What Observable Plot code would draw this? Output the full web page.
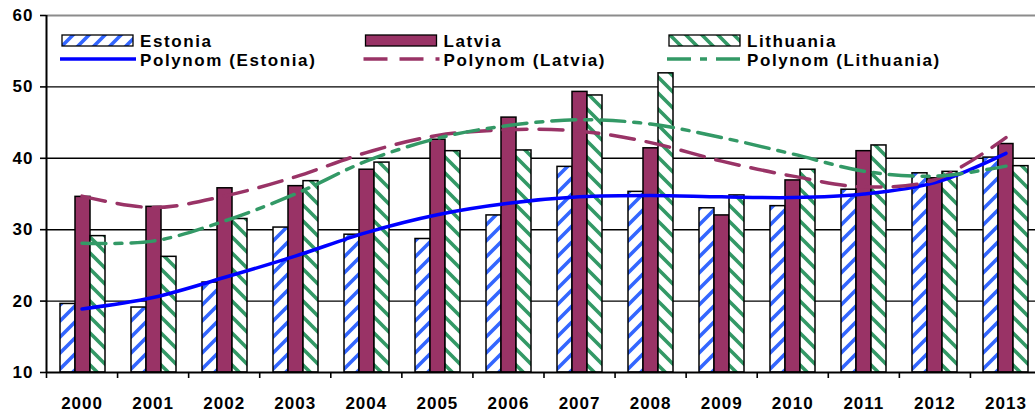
<!DOCTYPE html>
<html>
<head>
<meta charset="utf-8">
<script src="https://cdn.jsdelivr.net/npm/d3@7"></script>
<script src="https://cdn.jsdelivr.net/npm/@observablehq/plot@0.6"></script>
<style>
  html, body { margin: 0; padding: 0; background: #fff; overflow: hidden; }
  #chart { position: relative; width: 1041px; height: 417px; }
  #chart > svg { position: absolute; left: 0; top: 0; }
</style>
</head>
<body>
<div id="chart"></div>
<script>
// Categories and series values
const years = [2000, 2001, 2002, 2003, 2004, 2005, 2006, 2007, 2008, 2009, 2010, 2011, 2012, 2013];
const countries = ["Estonia", "Latvia", "Lithuania"];
const estonia   = [19.6, 19.1, 22.6, 30.3, 29.3, 28.7, 32.0, 38.8, 35.3, 33.0, 33.3, 35.6, 37.9, 40.1];
const latvia    = [34.6, 33.2, 35.8, 36.1, 38.4, 42.6, 45.7, 49.3, 41.4, 32.0, 36.9, 41.0, 37.2, 42.0];
const lithuania = [29.1, 26.2, 31.5, 36.8, 39.4, 41.0, 41.1, 48.8, 51.9, 34.8, 38.4, 41.8, 38.1, 38.9];

// Polynomial trend values at each year
const trendEstonia   = [18.9, 20.5, 23.3, 26.3, 29.6, 32.1, 33.7, 34.6, 34.8, 34.6, 34.5, 35.0, 36.6, 40.7];
const trendLatvia    = [34.7, 33.1, 34.7, 37.4, 40.8, 43.2, 44.0, 43.8, 42.2, 39.6, 37.5, 36.0, 37.0, 42.9];
const trendLithuania = [28.1, 28.4, 31.2, 35.0, 39.6, 42.8, 44.6, 45.4, 44.8, 42.9, 40.6, 38.2, 37.5, 38.9];

const yTicks = [10, 20, 30, 40, 50, 60];

const seriesValues = {Estonia: estonia, Latvia: latvia, Lithuania: lithuania};
const seriesTrend = {Estonia: trendEstonia, Latvia: trendLatvia, Lithuania: trendLithuania};

// Styling
const barFill = {Estonia: "url(#hatch-estonia)", Latvia: "#993366", Lithuania: "url(#hatch-lithuania)"};
const trendStroke = {Estonia: "#0000ff", Latvia: "#993366", Lithuania: "#339966"};
const trendDash = {Estonia: null, Latvia: "24,12", Lithuania: "24,9,7,9"};

const bars = years.flatMap((year, i) =>
  countries.map(country => ({year, country, value: seriesValues[country][i]})));
const trends = countries.map(country =>
  years.map((year, i) => ({year, country, value: seriesTrend[country][i]})));

const W = 1041, H = 417;
const dims = {width: W, height: H, marginLeft: 46, marginRight: 0, marginTop: 15, marginBottom: 45};
const yDomain = [yTicks[0], yTicks[yTicks.length - 1]];
const xDomain = [years[0] - 0.5, years[years.length - 1] + 0.5];
const boundaries = [...years.map(y => y - 0.5), years[years.length - 1] + 0.5];
const style = {
  fontFamily: '"Liberation Sans", Arial, sans-serif',
  fontSize: "17px",
  fontWeight: "bold",
  letterSpacing: "1px",
  color: "#000",
  background: "transparent",
  overflow: "visible"
};

const chart = d3.select("#chart");

// Hatch patterns shared by bars and legend
const defsSvg = chart.append("svg").attr("width", 0).attr("height", 0);
const defs = defsSvg.append("defs");
function hatch(id, color, up) {
  const p = defs.append("pattern")
    .attr("id", id).attr("patternUnits", "userSpaceOnUse")
    .attr("width", 16).attr("height", 16);
  p.append("rect").attr("width", 16).attr("height", 16).attr("fill", "#fff");
  p.append("path")
    .attr("d", up
      ? "M-4,4L4,-4M0,16L16,0M12,20L20,12"
      : "M-4,12L4,20M0,0L16,16M12,-4L20,4")
    .attr("stroke", color).attr("stroke-width", 3.6);
}
hatch("hatch-estonia", "#3366ff", true);
hatch("hatch-lithuania", "#339966", false);

// Layer 1: grid, axes and frame
const base = Plot.plot({
  ...dims, style,
  x: {type: "linear", domain: xDomain},
  y: {domain: yDomain},
  marks: [
    Plot.ruleY(yTicks.slice(1, -1), {stroke: "#000", strokeWidth: 1.4}),
    Plot.ruleY([yDomain[1]], {stroke: "#8c8c8c", strokeWidth: 2}),
    Plot.axisY({ticks: yTicks, tickSize: 6, tickPadding: 7, strokeWidth: 1.6, label: null}),
    Plot.axisX({ticks: boundaries, tickSize: 6, tickFormat: () => "", strokeWidth: 1.6, label: null}),
    Plot.axisX({ticks: years, tickSize: 0, tickPadding: 24, tickFormat: d => String(d), label: null})
  ]
});
chart.node().append(base);

// Layer 2: grouped bars, one facet per year
const barPlot = Plot.plot({
  ...dims, style,
  fx: {domain: years, paddingInner: 0.346, paddingOuter: 0.173, axis: null, label: null},
  x: {domain: countries, padding: 0, axis: null},
  y: {domain: yDomain, axis: null},
  color: {domain: countries, range: countries.map(c => barFill[c])},
  marks: [
    Plot.barY(bars, {fx: "year", x: "country", y1: yDomain[0], y2: "value", fill: "country", stroke: "#000", strokeWidth: 1.5})
  ]
});
chart.node().append(barPlot);

// Layer 3: axis lines and polynomial trend lines
const linePlot = Plot.plot({
  ...dims, style,
  x: {type: "linear", domain: xDomain, axis: null},
  y: {domain: yDomain, axis: null},
  marks: [
    Plot.ruleY([yDomain[0]], {stroke: "#000", strokeWidth: 2}),
    Plot.ruleX([xDomain[0]], {stroke: "#000", strokeWidth: 2}),
    ...trends.map((rows, i) => Plot.line(rows, {
      x: "year", y: "value", curve: "catmull-rom",
      stroke: trendStroke[countries[i]], strokeWidth: 3.5,
      strokeDasharray: trendDash[countries[i]] ?? undefined
    }))
  ]
});
chart.node().append(linePlot);

// Legend, inside the plot area
const legend = chart.append("svg").attr("width", W).attr("height", 80)
  .style("font-family", style.fontFamily).style("font-size", "17px")
  .style("font-weight", "bold").style("letter-spacing", "1.6px");
countries.forEach((c, i) => {
  const x0 = 60 + i * 303.5;
  const g = legend.append("g").attr("transform", `translate(${x0},0)`);
  g.append("rect").attr("x", 2).attr("y", 35).attr("width", 71).attr("height", 11)
    .attr("fill", barFill[c]).attr("stroke", "#000").attr("stroke-width", 1.3);
  g.append("line").attr("x1", 0).attr("x2", 76).attr("y1", 59).attr("y2", 59)
    .attr("stroke", trendStroke[c]).attr("stroke-width", 3.5)
    .attr("stroke-dasharray", trendDash[c]);
  g.append("text").attr("x", 80).attr("y", 46.5).text(c);
  g.append("text").attr("x", 80).attr("y", 65.5).text(`Polynom (${c})`);
});
</script>
</body>
</html>
